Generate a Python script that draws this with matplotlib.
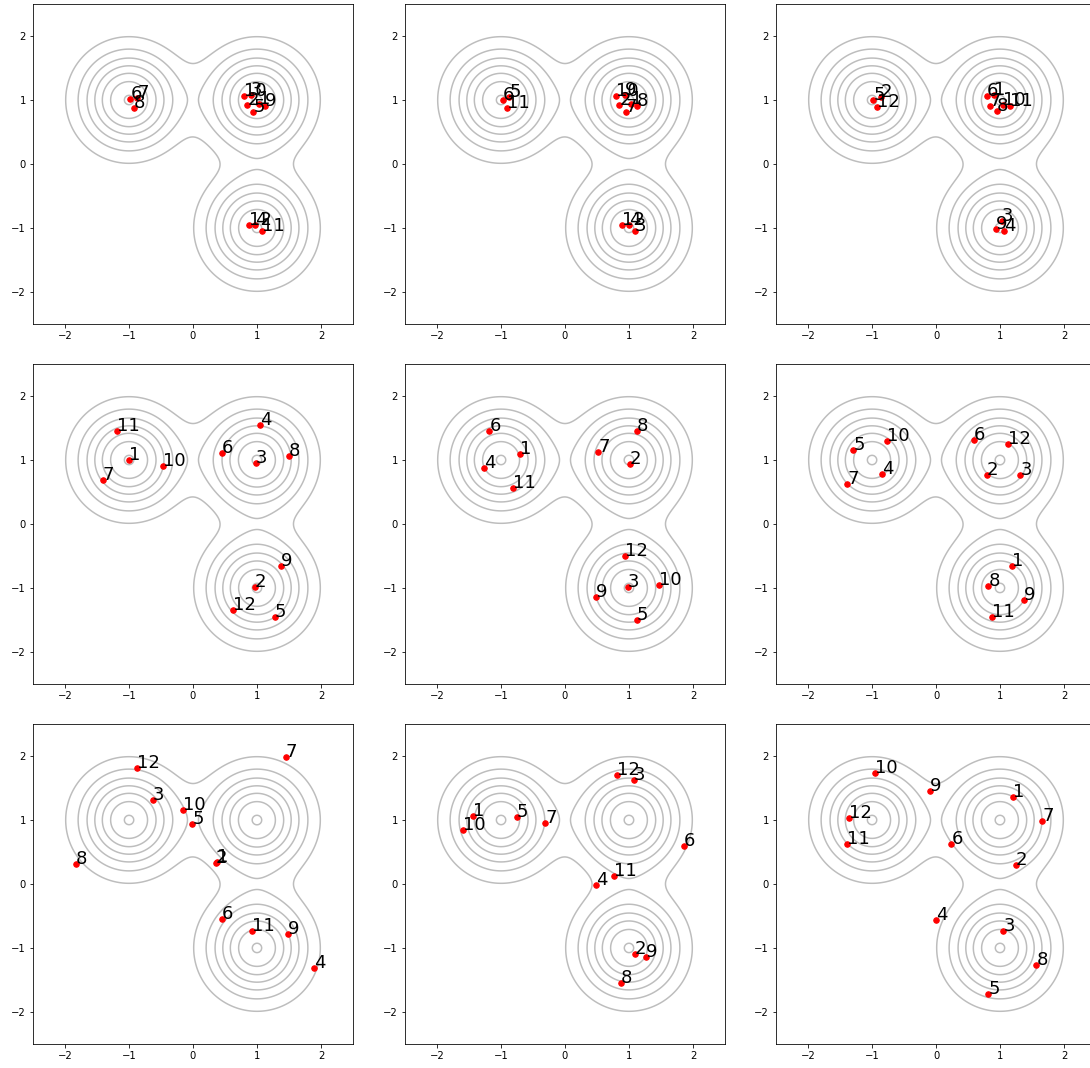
import numpy as np
import matplotlib
matplotlib.use("Agg")
import matplotlib.pyplot as plt

# mixture of three gaussians (sigma = 0.5)
centers = [(-1.0, 1.0), (1.0, 1.0), (1.0, -1.0)]
sigma = 0.5
levels = [0.03, 0.06, 0.09, 0.12, 0.15, 0.18, 0.21]

# particle positions per panel, index i -> label i+1
xs1 = [1.03, 0.85, 0.90, 0.97, 0.94, -0.98, -0.87, -0.92, 1.13, 0.79, 1.08, 0.875]
ys1 = [0.93, 0.92, 1.08, -0.95, 0.82, 1.01, 1.03, 0.88, 0.90, 1.07, -1.04, -0.96]

xs2 = [1.03, 0.85, 1.09, 0.995, -0.87, -0.97, 0.95, 1.125, 0.93, 0.80, -0.91, 0.89]
ys2 = [0.94, 0.92, -1.04, -0.95, 1.04, 1.00, 0.82, 0.91, 1.08, 1.07, 0.88, -0.96]

xs3 = [0.91, -0.86, 1.03, 1.06, -0.98, 0.79, 0.84, 0.95, 0.94, 1.04, 1.16, -0.92]
ys3 = [1.08, 1.04, -0.89, -1.05, 1.00, 1.06, 0.91, 0.83, -1.01, 0.92, 0.91, 0.89]

xs4 = [-1.00, 0.97, 0.98, 1.05, 1.28, 0.45, -1.41, 1.50, 1.37, -0.47, -1.19, 0.63]
ys4 = [1.00, -0.98, 0.95, 1.54, -1.45, 1.11, 0.68, 1.06, -0.65, 0.90, 1.46, -1.35]

xs5 = [-0.70, 1.01, 0.98, -1.27, 1.125, -1.18, 0.52, 1.12, 0.49, 1.47, -0.81, 0.93]
ys5 = [1.10, 0.94, -0.98, 0.87, -1.50, 1.46, 1.125, 1.46, -1.14, -0.96, 0.57, -0.50]

xs6 = [1.19, 0.79, 1.32, -0.84, -1.29, 0.59, -1.39, 0.82, 1.37, -0.76, 0.88, 1.13]
ys6 = [-0.65, 0.76, 0.77, 0.78, 1.16, 1.31, 0.62, -0.97, -1.19, 1.30, -1.45, 1.25]

xs7 = [0.37, 0.36, -0.63, 1.89, -0.01, 0.45, 1.45, -1.83, 1.48, -0.16, 0.92, -0.87]
ys7 = [0.34, 0.33, 1.32, -1.32, 0.93, -0.55, 1.98, 0.32, -0.78, 1.16, -0.73, 1.81]

xs8 = [-1.44, 1.09, 1.08, 0.48, -0.75, 1.86, -0.31, 0.875, 1.26, -1.59, 0.77, 0.81]
ys8 = [1.06, -1.10, 1.62, -0.01, 1.05, 0.60, 0.96, -1.55, -1.14, 0.85, 0.12, 1.70]

xs9 = [1.20, 1.25, 1.05, 0.005, 0.82, 0.24, 1.66, 1.57, -0.10, -0.96, -1.39, -1.36]
ys9 = [1.36, 0.30, -0.74, -0.57, -1.72, 0.62, 0.99, -1.26, 1.46, 1.74, 0.62, 1.03]

panels = [(xs1, ys1), (xs2, ys2), (xs3, ys3),
          (xs4, ys4), (xs5, ys5), (xs6, ys6),
          (xs7, ys7), (xs8, ys8), (xs9, ys9)]

g = np.linspace(-2.5, 2.5, 300)
X, Y = np.meshgrid(g, g)
Z = np.zeros_like(X)
for cx, cy in centers:
    Z += np.exp(-((X - cx)**2 + (Y - cy)**2) / (2 * sigma**2)) / (2 * np.pi * sigma**2) / 3

W, H = 1090, 1068
fig = plt.figure(figsize=(W / 72, H / 72), dpi=72)

lefts = [33, 405, 776]
tops = [4, 364, 724]
size = 320

for k, (px, py) in enumerate(panels):
    r, c = divmod(k, 3)
    ax = fig.add_axes([lefts[c] / W, (H - tops[r] - size) / H, size / W, size / H])
    ax.contour(X, Y, Z, levels=levels, colors='#bdbdbd', linewidths=1.5)
    ax.plot(px, py, 'o', color='red', markersize=5.5)
    for i in range(len(px)):
        ax.text(px[i], py[i], str(i + 1), fontsize=18)
    ax.set_xlim(-2.5, 2.5)
    ax.set_ylim(-2.5, 2.5)
    ax.set_xticks([-2, -1, 0, 1, 2])
    ax.set_yticks([-2, -1, 0, 1, 2])

fig.savefig("out.png", dpi=72)
